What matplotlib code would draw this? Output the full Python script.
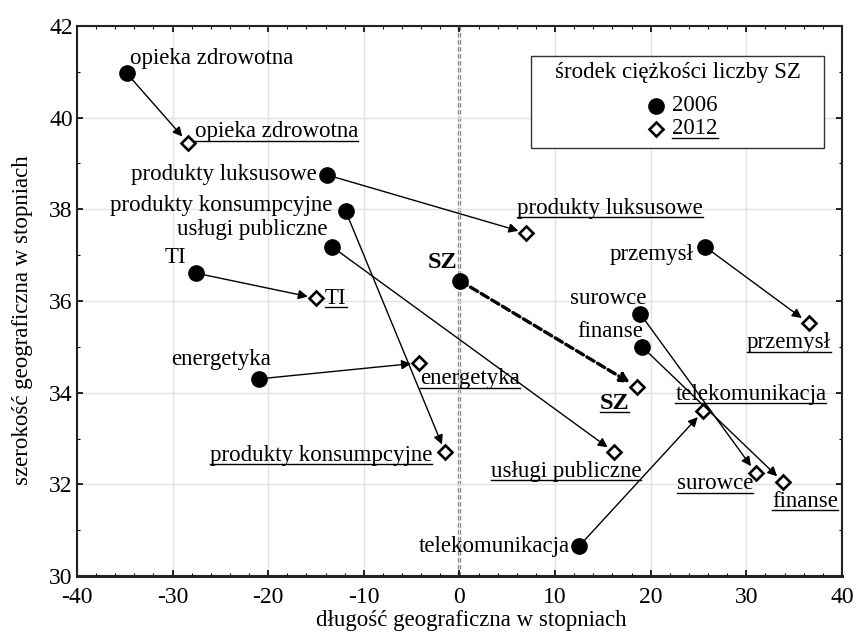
import numpy as np
import matplotlib.pyplot as plt
from matplotlib.lines import Line2D
from matplotlib.patches import Rectangle
from matplotlib.ticker import MultipleLocator

plt.rcParams['font.family'] = ['Liberation Serif', 'DejaVu Serif']
plt.rcParams['axes.unicode_minus'] = False

# dane: srodek ciezkosci liczby SZ wg sektorow
sektory = ["opieka zdrowotna", "produkty luksusowe", "produkty konsumpcyjne",
           "usługi publiczne", "TI", "energetyka", "przemysł", "surowce",
           "finanse", "telekomunikacja", "SZ"]
x2006 = [-34.8, -13.85, -11.9, -13.3, -27.6, -21.0, 25.7, 18.9, 19.1, 12.5, 0.05]
y2006 = [40.97, 38.75, 37.96, 37.18, 36.61, 34.3, 37.18, 35.72, 35.0, 30.65, 36.44]
x2012 = [-28.4, 7.0, -1.5, 16.2, -15.0, -4.2, 36.5, 31.0, 33.85, 25.5, 18.6]
y2012 = [39.45, 37.48, 32.7, 32.7, 36.06, 34.65, 35.52, 32.25, 32.05, 33.6, 34.12]

# polozenie podpisow (ha, dx, dy w pikselach)
off2006 = [('left', 3, 15), ('right', -10, 0), ('right', -13, 6), ('right', -5, 17),
           ('right', -9, 16), ('right', 12, 19), ('right', -12, -8), ('right', 6, 15),
           ('right', 1, 15), ('right', -9, 0), ('right', -3, 18)]
off2012 = [('left', 7, 11), ('left', -9, 25), ('right', -13, -3), ('right', 27, -19),
           ('left', 9, 0), ('left', 1, -16), ('right', 22, -20), ('right', -3, -11),
           ('left', -11, -19), ('left', -28, 17), ('right', -8, -16)]

FS = 16.5

fig = plt.figure(figsize=(8.57, 6.33), dpi=100)
ax = fig.add_axes([0.0898, 0.090, 0.8927, 0.869])

ax.set_xlim(-40, 40)
ax.set_ylim(30, 42)
ax.xaxis.set_major_locator(MultipleLocator(10))
ax.xaxis.set_minor_locator(MultipleLocator(2))
ax.yaxis.set_major_locator(MultipleLocator(2))
ax.yaxis.set_minor_locator(MultipleLocator(1))
ax.grid(True, which='major', color='#e2e2e2', lw=1.0, zorder=0)
ax.tick_params(which='both', direction='in', top=True, right=True, labelsize=17)
ax.tick_params(axis='x', pad=8)
ax.tick_params(axis='y', pad=3)
ax.tick_params(which='major', length=4, width=1.2)
ax.tick_params(which='minor', length=2.5, width=0.8)
for s in ax.spines.values():
    s.set_color('#222222')
    s.set_linewidth(1.5)
ax.spines['bottom'].set_linewidth(2.2)

ax.axvline(0, color='#707070', lw=2.4, linestyle=(0, (1.3, 0.8)), zorder=1)

# strzalki
for i in range(len(sektory)):
    sz = sektory[i] == "SZ"
    ax.annotate("", xy=(x2012[i], y2012[i]), xytext=(x2006[i], y2006[i]),
                arrowprops=dict(arrowstyle='-|>', color='black',
                                lw=2.4 if sz else 1.0,
                                linestyle=(0, (2.5, 1.2)) if sz else '-',
                                shrinkA=0, shrinkB=6, mutation_scale=14),
                zorder=2)

ax.plot(x2006, y2006, 'o', color='black', ms=11, zorder=4, linestyle='none')
ax.plot(x2012, y2012, 'D', mfc='white', mec='black', ms=7.5, mew=1.9, zorder=4,
        linestyle='none')

underline = []
for i, name in enumerate(sektory):
    sz = name == "SZ"
    ha, dx, dy = off2006[i]
    ax.annotate(name, (x2006[i], y2006[i]), xytext=(dx, dy), textcoords='offset pixels',
                ha=ha, va='center', fontsize=17.5 if sz else FS,
                fontweight='bold' if sz else 'normal', zorder=5)
    ha, dx, dy = off2012[i]
    t = ax.annotate(name, (x2012[i], y2012[i]), xytext=(dx, dy), textcoords='offset pixels',
                    ha=ha, va='center', fontsize=17.5 if sz else FS,
                    fontweight='bold' if sz else 'normal', zorder=5)
    underline.append(t)

ax.set_xlabel("długość geograficzna w stopniach", fontsize=FS)
ax.set_ylabel("szerokość geograficzna w stopniach", fontsize=FS)
ax.xaxis.set_label_coords(0.516, -0.062)
ax.yaxis.set_label_coords(-0.058, 0.465)

# legenda
ax.add_patch(Rectangle((0.593, 0.778), 0.383, 0.167, transform=ax.transAxes,
                       fc='white', ec='#333333', lw=1.0, zorder=6))
ax.text(0.785, 0.915, "środek ciężkości liczby SZ", transform=ax.transAxes,
        ha='center', va='center', fontsize=FS, zorder=7)
ax.plot([0.757], [0.855], 'o', color='black', ms=11, transform=ax.transAxes, zorder=7)
ax.plot([0.757], [0.813], 'D', mfc='white', mec='black', ms=7.5, mew=1.9,
        transform=ax.transAxes, zorder=7)
ax.text(0.778, 0.855, "2006", transform=ax.transAxes, ha='left', va='center',
        fontsize=FS, zorder=7)
t = ax.text(0.778, 0.813, "2012", transform=ax.transAxes, ha='left', va='center',
            fontsize=FS, zorder=7)
underline.append(t)

# podkreslenia
fig.canvas.draw()
r = fig.canvas.get_renderer()
inv = fig.transFigure.inverted()
for t in underline:
    bb = t.get_window_extent(r)
    (x0, y0), (x1, _) = inv.transform([(bb.x0, bb.y0 + 1.5), (bb.x1, bb.y0)])
    fig.add_artist(Line2D([x0, x1], [y0, y0], color='black', lw=1.0, zorder=8))

fig.savefig("out.png", dpi=100)
